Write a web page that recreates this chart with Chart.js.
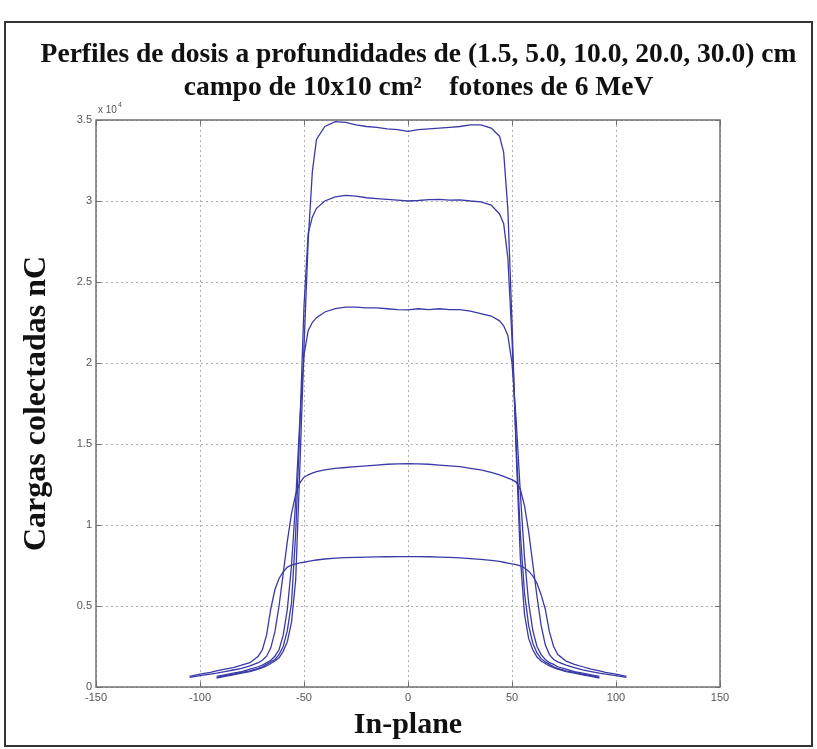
<!DOCTYPE html>
<html>
<head>
<meta charset="utf-8">
<script src="https://cdn.jsdelivr.net/npm/chart.js@4.4.0/dist/chart.umd.min.js"></script>
<style>
  html, body { margin: 0; padding: 0; background: #ffffff; }
  #wrap { position: relative; width: 817px; height: 749px; }
  #c { position: absolute; left: 0; top: 0; }
  #frame { position: absolute; left: 4px; top: 21px; width: 809px; height: 726px;
           border: 2px solid #333; box-sizing: border-box; pointer-events: none; }
</style>
</head>
<body>
<div id="wrap">
  <canvas id="c" width="817" height="749"></canvas>
  <div id="frame"></div>
</div>
<script>
// Scan positions along the in-plane axis (mm)
const positionsMm = [
  -105, -100, -95, -92, -88, -84, -80, -76, -72, -70, -68, -66, -64, -62, -60, -58, -56, -54, -52, -50, -48, -46, -44,
  -40, -35, -30, -25, -20, -15, -10, -5, 0, 5, 10, 15, 20, 25, 30, 35, 40,
  44, 46, 48, 50, 52, 54, 56, 58, 60, 62, 64, 66, 68, 70, 72, 76, 80, 84, 88, 92, 95, 100, 105
];

// Collected charge (x 10^4 nC) at each depth
const depth1_5 = [
  null, null, null, 0.055, 0.065, 0.075, 0.085, 0.095, 0.11, 0.12, 0.13, 0.145, 0.16, 0.18, 0.22, 0.28, 0.40, 0.66, 1.35, 2.10, 2.75, 3.18, 3.38,
  3.46, 3.49, 3.485, 3.47, 3.46, 3.455, 3.445, 3.44, 3.43, 3.44, 3.445, 3.45, 3.455, 3.46, 3.47, 3.47, 3.45,
  3.40, 3.30, 2.95, 2.25, 1.45, 0.80, 0.45, 0.30, 0.23, 0.185, 0.16, 0.145, 0.13, 0.12, 0.11, 0.095, 0.085, 0.075, 0.065, 0.055, null, null, null
];
const depth5_0 = [
  null, null, null, 0.06, 0.07, 0.08, 0.09, 0.10, 0.115, 0.125, 0.14, 0.155, 0.17, 0.20, 0.25, 0.35, 0.52, 0.95, 1.60, 2.35, 2.80, 2.90, 2.955,
  3.00, 3.025, 3.035, 3.03, 3.02, 3.015, 3.01, 3.005, 3.00, 3.003, 3.008, 3.01, 3.005, 3.007, 3.00, 2.995, 2.975,
  2.92, 2.86, 2.65, 2.15, 1.50, 0.95, 0.58, 0.38, 0.27, 0.21, 0.175, 0.155, 0.14, 0.125, 0.115, 0.10, 0.09, 0.08, 0.07, 0.06, null, null, null
];
const depth10_0 = [
  null, null, null, 0.065, 0.075, 0.085, 0.095, 0.11, 0.125, 0.135, 0.15, 0.165, 0.19, 0.23, 0.32, 0.48, 0.75, 1.15, 1.65, 2.05, 2.20, 2.25, 2.28,
  2.315, 2.335, 2.345, 2.345, 2.34, 2.34, 2.335, 2.33, 2.328, 2.335, 2.33, 2.335, 2.33, 2.33, 2.32, 2.305, 2.29,
  2.26, 2.23, 2.17, 2.00, 1.65, 1.20, 0.80, 0.52, 0.35, 0.25, 0.20, 0.17, 0.15, 0.14, 0.125, 0.11, 0.095, 0.085, 0.075, 0.065, null, null, null
];
const depth20_0 = [
  0.06, 0.07, 0.08, 0.085, 0.095, 0.105, 0.115, 0.13, 0.15, 0.165, 0.19, 0.24, 0.34, 0.50, 0.70, 0.90, 1.07, 1.19, 1.26, 1.295, 1.31, 1.32, 1.33,
  1.34, 1.35, 1.355, 1.36, 1.365, 1.37, 1.375, 1.377, 1.378, 1.377, 1.375, 1.37, 1.365, 1.36, 1.35, 1.34, 1.325,
  1.31, 1.30, 1.29, 1.28, 1.265, 1.22, 1.12, 0.96, 0.76, 0.56, 0.38, 0.26, 0.20, 0.17, 0.155, 0.135, 0.12, 0.105, 0.095, 0.085, 0.08, 0.07, 0.06
];
const depth30_0 = [
  0.065, 0.08, 0.09, 0.10, 0.11, 0.12, 0.135, 0.15, 0.19, 0.23, 0.32, 0.48, 0.60, 0.67, 0.71, 0.74, 0.752, 0.76, 0.766, 0.77, 0.775, 0.78, 0.784,
  0.79, 0.795, 0.798, 0.80, 0.802, 0.803, 0.804, 0.805, 0.805, 0.805, 0.804, 0.802, 0.80, 0.797, 0.793, 0.788, 0.782,
  0.775, 0.77, 0.765, 0.76, 0.755, 0.748, 0.735, 0.715, 0.685, 0.64, 0.57, 0.48, 0.34, 0.25, 0.20, 0.16, 0.14, 0.125, 0.11, 0.10, 0.09, 0.08, 0.065
];

const seriesNames = ['1.5 cm', '5.0 cm', '10.0 cm', '20.0 cm', '30.0 cm'];
const seriesValues = [depth1_5, depth5_0, depth10_0, depth20_0, depth30_0];

const xTickValues = [-150, -100, -50, 0, 50, 100, 150];
const yTickValues = [0, 0.5, 1, 1.5, 2, 2.5, 3, 3.5];

const lineColor = '#3a3aa6';
const tickFont = { family: '"Liberation Sans Narrow", "Liberation Sans", Arial, sans-serif', size: 11 };
const serif = '"Liberation Serif", "Times New Roman", serif';

// Plot area edges in canvas pixels
const AREA_LEFT = 96, AREA_RIGHT = 720, PAD_LEFT = 20;

function toPoints(values) {
  const pts = [];
  values.forEach((v, i) => { if (v !== null) pts.push({ x: positionsMm[i], y: v }); });
  return pts;
}

// Plot box, inward tick marks and the axis multiplier
const axesBox = {
  id: 'axesBox',
  afterDraw(chart) {
    const { ctx, chartArea: a, scales: { x, y } } = chart;
    ctx.save();
    ctx.strokeStyle = '#707070';
    ctx.lineWidth = 1;
    ctx.beginPath();
    xTickValues.forEach(v => {
      const px = Math.round(x.getPixelForValue(v)) + 0.5;
      ctx.moveTo(px, a.bottom); ctx.lineTo(px, a.bottom - 5);
      ctx.moveTo(px, a.top); ctx.lineTo(px, a.top + 5);
    });
    yTickValues.forEach(v => {
      const py = Math.round(y.getPixelForValue(v)) + 0.5;
      ctx.moveTo(a.left, py); ctx.lineTo(a.left + 5, py);
      ctx.moveTo(a.right, py); ctx.lineTo(a.right - 5, py);
    });
    ctx.stroke();
    ctx.lineWidth = 1.5;
    ctx.strokeRect(a.left, a.top, a.right - a.left, a.bottom - a.top);

    ctx.fillStyle = '#555';
    ctx.textAlign = 'left';
    ctx.textBaseline = 'alphabetic';
    ctx.font = '10px ' + tickFont.family;
    const base = 'x 10';
    ctx.fillText(base, a.left + 2, a.top - 7);
    const w = ctx.measureText(base).width;
    ctx.font = '7px ' + tickFont.family;
    ctx.fillText('4', a.left + 3 + w, a.top - 13);
    ctx.restore();
  }
};

new Chart(document.getElementById('c'), {
  type: 'line',
  data: {
    datasets: seriesValues.map((vals, i) => ({
      label: seriesNames[i],
      data: toPoints(vals),
      borderColor: lineColor,
      borderWidth: 1.3,
      pointRadius: 0,
      tension: 0,
      fill: false
    }))
  },
  options: {
    responsive: false,
    animation: false,
    layout: { padding: { left: PAD_LEFT, right: 0, top: 0, bottom: 0 } },
    plugins: {
      legend: { display: false },
      tooltip: { enabled: false },
      title: {
        display: true,
        text: 'Perfiles de dosis a profundidades de (1.5, 5.0, 10.0, 20.0, 30.0) cm',
        color: '#111',
        font: { family: serif, size: 27.5, weight: 'bold' },
        padding: { top: 38, bottom: 0 }
      },
      subtitle: {
        display: true,
        text: 'campo de 10x10 cm²    fotones de 6 MeV',
        color: '#111',
        font: { family: serif, size: 27.5, weight: 'bold' },
        padding: { top: 0, bottom: 16 }
      }
    },
    scales: {
      x: {
        type: 'linear',
        min: -150,
        max: 150,
        afterBuildTicks(s) { s.ticks = xTickValues.map(v => ({ value: v })); },
        afterFit(s) { s.height = 62; },
        ticks: { color: '#555', font: tickFont, padding: 4, maxRotation: 0, callback: v => String(v) },
        grid: { color: '#b0b0b0', lineWidth: 1, drawTicks: false },
        border: { display: false, dash: [2, 3] },
        title: {
          display: true,
          text: 'In-plane',
          color: '#111',
          font: { family: serif, size: 30, weight: 'bold' },
          padding: { top: 0, bottom: 6 }
        }
      },
      y: {
        type: 'linear',
        min: 0,
        max: 3.5,
        afterBuildTicks(s) { s.ticks = yTickValues.map(v => ({ value: v })); },
        afterFit(s) { s.width = AREA_LEFT - PAD_LEFT; },
        ticks: { color: '#555', font: tickFont, padding: 4, callback: v => String(v) },
        grid: { color: '#b0b0b0', lineWidth: 1, drawTicks: false },
        border: { display: false, dash: [2, 3] },
        title: {
          display: true,
          text: 'Cargas colectadas nC',
          color: '#111',
          font: { family: serif, size: 32, weight: 'bold' },
          padding: { top: -2, bottom: 0 }
        }
      },
      // empty margin on the right of the plot box
      yMargin: {
        type: 'linear',
        position: 'right',
        display: true,
        min: 0,
        max: 1,
        afterFit(s) { s.width = 817 - AREA_RIGHT; },
        ticks: { display: false },
        grid: { display: false, drawTicks: false },
        border: { display: false }
      }
    }
  },
  plugins: [axesBox]
});
</script>
</body>
</html>
